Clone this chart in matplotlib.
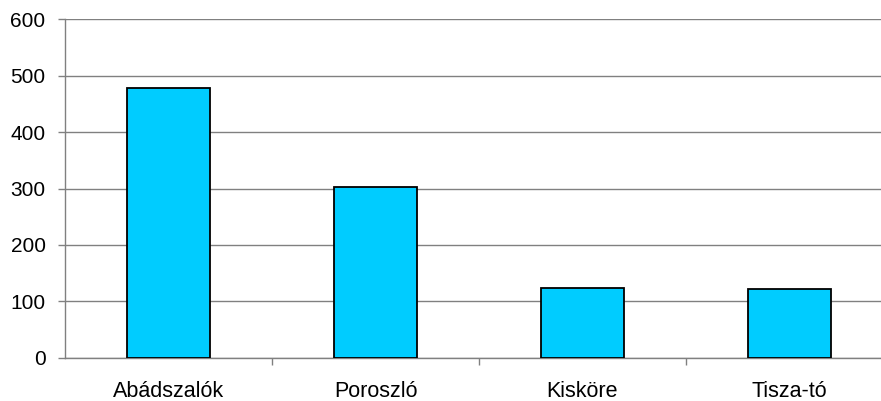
import matplotlib.pyplot as plt
import numpy as np

plt.rcParams['font.family'] = ['Liberation Sans', 'DejaVu Sans']

places = ['Abádszalók', 'Poroszló', 'Kisköre', 'Tisza-tó']
counts = [478, 302, 123, 122]
yticks = [0, 100, 200, 300, 400, 500, 600]

fig = plt.figure(figsize=(8.81, 4.01), dpi=100)
W, H = 881, 401
# plot area runs past the right edge of the figure
ax = fig.add_axes([65 / W, (H - 357.7) / H, 828 / W, 338.4 / H])

x = np.arange(len(places))
ax.bar(x, counts, width=0.4, color='#00CCFF', edgecolor='black',
       linewidth=1.3, zorder=3)

ax.set_xlim(-0.5, len(places) - 0.5)
ax.set_ylim(0, 600)
ax.set_yticks(yticks)
ax.set_yticklabels([str(v) for v in yticks], fontsize=15)
ax.set_xticks(x)
ax.set_xticklabels(places, fontsize=15.5)
ax.set_xticks(np.arange(0.5, len(places) - 0.5, 1), minor=True)

ax.grid(axis='y', color='#808080', linewidth=1, zorder=0)
ax.tick_params(axis='y', length=5, width=1, color='#808080', pad=9)
ax.tick_params(axis='x', which='major', length=0, pad=17)
ax.tick_params(axis='x', which='minor', length=5, width=1, color='#808080')

for side in ['top', 'right']:
    ax.spines[side].set_visible(False)
for side in ['left', 'bottom']:
    ax.spines[side].set_color('#808080')
    ax.spines[side].set_linewidth(1)

fig.savefig('out.png', dpi=100)
